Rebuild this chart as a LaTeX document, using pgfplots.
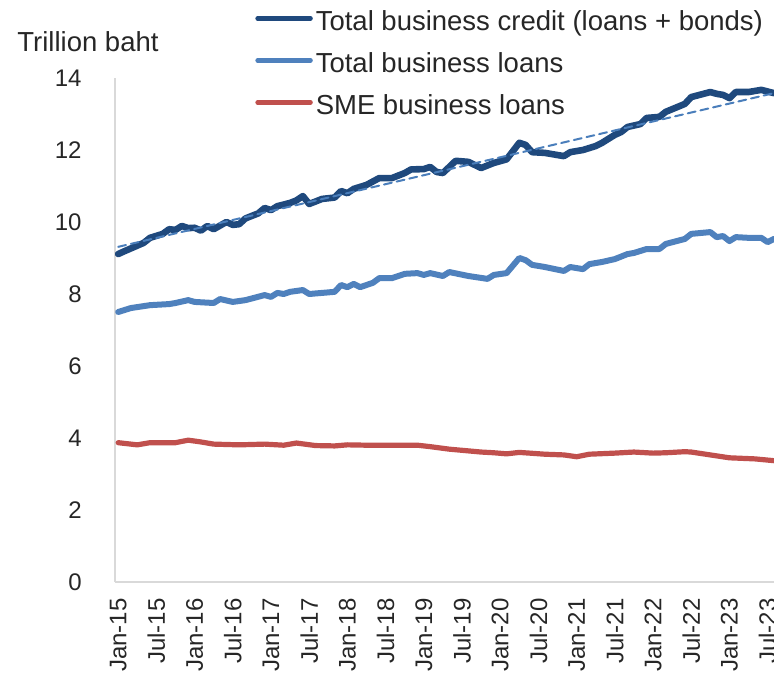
\documentclass[border=0pt]{standalone}
\usepackage{pgfplots}
\pgfplotsset{compat=1.18}
\usepackage{fontspec}
\setmainfont{Liberation Sans}
\definecolor{darkblue}{HTML}{1F497D}
\definecolor{lightblue}{HTML}{4F81BD}
\definecolor{redline}{HTML}{C0504D}
\definecolor{trendblue}{HTML}{4A7EBB}
\definecolor{axisgray}{HTML}{D9D9D9}
\definecolor{textgray}{HTML}{262626}
\begin{document}
\begin{tikzpicture}
\useasboundingbox (0pt,0pt) rectangle (387pt,340pt);
\begin{scope}
\clip (0pt,0pt) rectangle (387pt,340pt);
\begin{axis}[
  at={(57.5pt,49pt)}, anchor=south west,
  scale only axis, width=329.5pt, height=252pt,
  xmin=-0.5, xmax=103, ymin=0, ymax=14,
  axis x line*=bottom, axis y line*=left,
  axis line style={draw=axisgray, line width=1pt},
  xtick={0,6,...,102},
  xticklabels={Jan-15,Jul-15,Jan-16,Jul-16,Jan-17,Jul-17,Jan-18,Jul-18,Jan-19,Jul-19,Jan-20,Jul-20,Jan-21,Jul-21,Jan-22,Jul-22,Jan-23,Jul-23},
  ytick={0,2,...,14},
  major tick length=0pt,
  tick label style={font=\fontsize{12}{14}\selectfont, text=textgray},
  xticklabel style={rotate=90, anchor=east, inner xsep=8pt, inner ysep=0pt},
  yticklabel style={anchor=east, inner xsep=16.5pt, inner ysep=0pt},
  /pgf/number format/assume math mode=true,
  every axis y label/.style={at={(axis description cs:-0.1487,1.0516)}, anchor=base west, inner sep=0pt, font=\fontsize{13.75}{16}\selectfont, text=textgray},
  ylabel={Trillion baht},
  legend style={at={(axis description cs:0.2124,1.1429)}, anchor=north west, draw=none, fill=none, inner sep=0pt,
    font=\fontsize{13.75}{16}\selectfont, text=textgray,
    nodes={inner sep=0pt, text height=12pt, text depth=9pt},
    row sep=0pt,
    /tikz/every odd column/.append style={column sep=1.5pt}},
  legend cell align=left,
  legend image code/.code={\draw[#1, line width=2.2pt, line cap=round] (0.5pt,4.5pt) -- (27pt,4.5pt);},
  every axis plot/.append style={line join=round, line cap=round},
]
\addplot[darkblue, line width=3.3pt] coordinates {
(0,9.11)(1,9.19)(4,9.42)(5,9.56)(7,9.67)(8,9.80)(9,9.78)(10,9.89)(11,9.83)(12,9.84)(13,9.76)(14,9.89)(15,9.80)(17,10.00)(18,9.92)(19,9.94)(20,10.10)(22,10.24)(23,10.39)(24,10.33)(25,10.44)(27,10.53)(28,10.60)(29,10.72)(30,10.50)(32,10.64)(34,10.68)(35,10.86)(36,10.80)(37,10.92)(39,11.03)(41,11.22)(43,11.22)(45,11.36)(46,11.46)(48,11.47)(49,11.53)(50,11.39)(51,11.36)(53,11.70)(55,11.67)(57,11.50)(59,11.64)(61,11.74)(63,12.20)(64,12.14)(65,11.94)(67,11.92)(70,11.83)(71,11.94)(73,12.00)(75,12.11)(76,12.20)(78,12.42)(79,12.50)(80,12.64)(82,12.72)(83,12.89)(85,12.92)(86,13.06)(89,13.28)(90,13.47)(93,13.61)(94,13.56)(95,13.53)(96,13.44)(97,13.61)(99,13.61)(101,13.67)(103,13.58)
};
\addlegendentry{Total business credit (loans + bonds)}
\addplot[lightblue, line width=3pt] coordinates {
(0,7.50)(2,7.61)(5,7.69)(8,7.72)(9,7.75)(11,7.83)(12,7.78)(15,7.75)(16,7.86)(18,7.78)(20,7.83)(23,7.97)(24,7.92)(25,8.03)(26,8.00)(27,8.06)(29,8.11)(30,8.00)(32,8.03)(34,8.06)(35,8.25)(36,8.19)(37,8.28)(38,8.19)(40,8.31)(41,8.44)(43,8.44)(45,8.56)(47,8.58)(48,8.53)(49,8.58)(51,8.50)(52,8.61)(55,8.50)(58,8.42)(59,8.53)(61,8.58)(63,9.00)(64,8.94)(65,8.81)(67,8.75)(70,8.64)(71,8.75)(73,8.69)(74,8.83)(76,8.89)(78,8.97)(80,9.11)(81,9.14)(83,9.25)(85,9.25)(86,9.39)(89,9.53)(90,9.67)(93,9.72)(94,9.58)(95,9.61)(96,9.47)(97,9.58)(99,9.56)(101,9.56)(102,9.44)(103,9.53)
};
\addlegendentry{Total business loans}
\addplot[redline, line width=2.6pt] coordinates {
(0,3.87)(3,3.81)(5,3.87)(9,3.87)(11,3.94)(13,3.89)(15,3.83)(19,3.81)(23,3.83)(26,3.80)(28,3.86)(31,3.79)(34,3.78)(36,3.81)(39,3.80)(44,3.80)(47,3.80)(49,3.76)(52,3.69)(57,3.61)(59,3.59)(61,3.56)(63,3.60)(67,3.55)(70,3.53)(72,3.48)(74,3.55)(78,3.58)(81,3.61)(84,3.58)(86,3.59)(89,3.62)(90,3.61)(93,3.53)(96,3.45)(100,3.42)(103,3.37)
};
\addlegendentry{SME business loans}
\addplot[trendblue, line width=1pt, dash pattern=on 4pt off 2.5pt, forget plot] coordinates {(0,9.31)(103,13.58)};
\end{axis}
\end{scope}
\end{tikzpicture}
\end{document}
